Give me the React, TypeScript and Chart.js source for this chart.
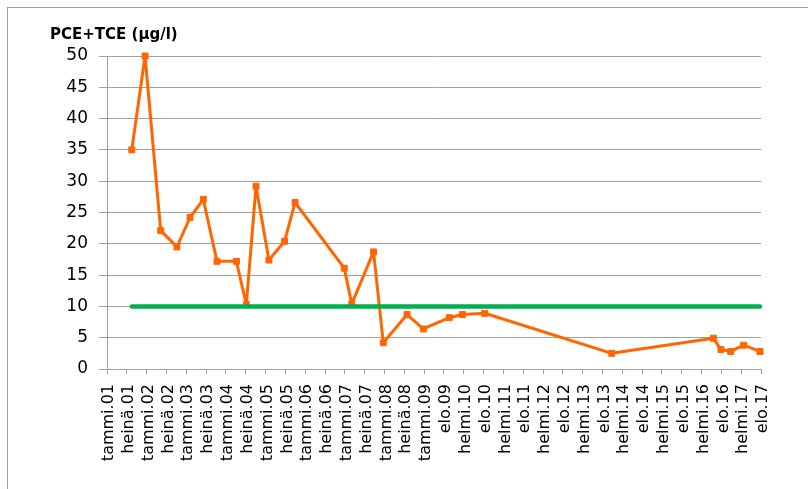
import React, { useEffect, useRef } from "react";
import { Chart, registerables } from "chart.js";

Chart.register(...registerables);

const xLabels = [
  "tammi.01", "heinä.01", "tammi.02", "heinä.02", "tammi.03", "heinä.03",
  "tammi.04", "heinä.04", "tammi.05", "heinä.05", "tammi.06", "heinä.06",
  "tammi.07", "heinä.07", "tammi.08", "heinä.08", "tammi.09", "elo.09",
  "helmi.10", "elo.10", "helmi.11", "elo.11", "helmi.12", "elo.12",
  "helmi.13", "elo.13", "helmi.14", "elo.14", "helmi.15", "elo.15",
  "helmi.16", "elo.16", "helmi.17", "elo.17",
];

// sampling positions along the label axis (label index units)
const sampleX = [
  1.25, 1.92, 2.71, 3.53, 4.19, 4.86, 5.55, 6.53, 7.03, 7.52, 8.17, 8.96,
  9.49, 11.97, 12.35, 13.45, 13.94, 15.14, 15.96, 17.27, 17.93, 19.06, 25.47,
  30.6, 30.98, 31.47, 32.12, 32.95,
];

const pceTce = [
  35, 50, 22.1, 19.5, 24.2, 27.1, 17.2, 17.2, 10.3, 29.2, 17.4, 20.4, 26.6,
  16.1, 10.4, 18.7, 4.2, 8.7, 6.4, 8.2, 8.7, 8.9, 2.5, 4.9, 3.1, 2.8, 3.8,
  2.8,
];

const limitX = [1.25, 32.95];
const limitY = [10, 10];

const yTicks = [0, 5, 10, 15, 20, 25, 30, 35, 40, 45, 50];

const titleText = "PCE+TCE (µg/l)";

const GRID = "#a0a0a0";
const ORANGE = "#ff6600";
const GREEN = "#00b050";
const FONT = "'DejaVu Sans', sans-serif";

export default function App() {
  const ref = useRef<HTMLCanvasElement | null>(null);

  useEffect(() => {
    if (!ref.current) return;
    const chart = new Chart(ref.current, {
      type: "line",
      data: {
        datasets: [
          {
            label: "raja",
            data: limitX.map((x, i) => ({ x, y: limitY[i] })),
            borderColor: GREEN,
            backgroundColor: GREEN,
            borderWidth: 4.5,
            borderCapStyle: "round",
            pointRadius: 0,
            clip: false,
            order: 0,
          },
          {
            label: "PCE+TCE",
            data: sampleX.map((x, i) => ({ x, y: pceTce[i] })),
            borderColor: ORANGE,
            backgroundColor: ORANGE,
            borderWidth: 3,
            borderJoinStyle: "round",
            borderCapStyle: "round",
            pointStyle: "rect",
            pointRadius: 4.2,
            pointBorderWidth: 1,
            pointBackgroundColor: ORANGE,
            pointBorderColor: ORANGE,
            tension: 0,
            clip: false,
            order: 1,
          },
        ],
      },
      options: {
        responsive: false,
        animation: false,
        layout: { padding: { left: 50, right: 47, top: 26, bottom: 0 } },
        plugins: {
          legend: { display: false },
          tooltip: { enabled: false },
          title: {
            display: true,
            text: titleText,
            align: "start",
            color: "#000",
            font: { family: FONT, size: 15, weight: "bold", lineHeight: 1.2 },
            padding: { top: 0, bottom: 12 },
          },
        },
        scales: {
          x: {
            type: "linear",
            min: 0,
            max: xLabels.length - 1,
            afterBuildTicks: (scale: any) => {
              scale.ticks = xLabels.map((_, i) => ({ value: i }));
            },
            afterFit: (scale: any) => {
              scale.height = 120;
            },
            ticks: {
              autoSkip: false,
              maxRotation: 90,
              minRotation: 90,
              padding: 10,
              labelOffset: 2,
              color: "#000",
              font: { family: FONT, size: 16 },
              callback: (v: any) => xLabels[Math.round(Number(v))] ?? "",
            },
            grid: {
              drawOnChartArea: false,
              drawTicks: true,
              tickLength: 5,
              color: GRID,
              lineWidth: 1,
            },
            border: { display: true, color: GRID, width: 1 },
          },
          y: {
            type: "linear",
            min: 0,
            max: 50,
            afterBuildTicks: (scale: any) => {
              scale.ticks = yTicks.map((v) => ({ value: v }));
            },
            afterFit: (scale: any) => {
              scale.width = 57;
            },
            ticks: {
              padding: 11,
              color: "#000",
              font: { family: FONT, size: 17 },
            },
            grid: {
              color: GRID,
              lineWidth: 1,
              drawTicks: true,
              tickLength: 8,
            },
            border: { display: true, color: GRID, width: 1 },
          },
        },
      },
    });
    return () => chart.destroy();
  }, []);

  return (
    <div
      style={{
        position: "absolute",
        left: 0,
        top: 0,
        width: 808,
        height: 489,
        overflow: "hidden",
        background: "#fff",
      }}
    >
      <div
        style={{
          position: "absolute",
          left: 7,
          top: 7,
          width: 900,
          height: 600,
          borderTop: "1px solid #a39d96",
          borderLeft: "1px solid #a39d96",
        }}
      />
      <canvas
        ref={ref}
        width={808}
        height={489}
        style={{ position: "absolute", left: 0, top: 0 }}
      />
    </div>
  );
}
